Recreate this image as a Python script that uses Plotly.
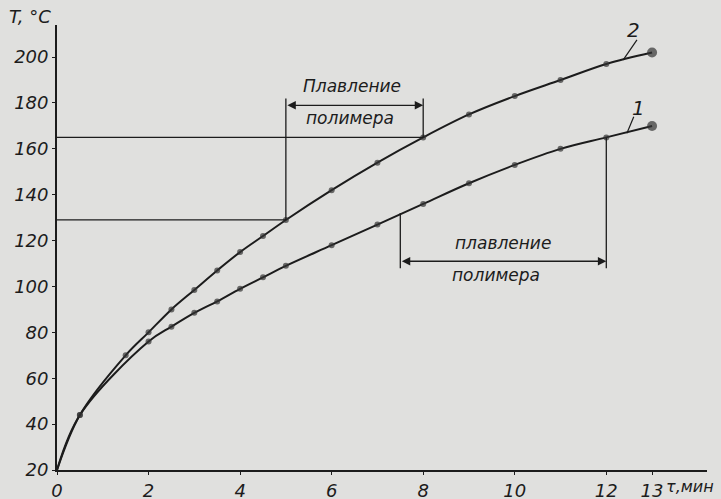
import plotly.graph_objects as go

# Curve 2
t2 = [0, 0.5, 1.5, 2, 2.5, 3, 3.5, 4, 4.5, 5, 6, 7, 8, 9, 10, 11, 12, 13]
T2 = [20, 44, 70, 80, 90, 98.5, 107, 115, 122, 129, 142, 154, 165, 175, 183, 190, 197, 202]
# Curve 1
t1 = [0, 0.5, 2, 2.5, 3, 3.5, 4, 4.5, 5, 6, 7, 8, 9, 10, 11, 12, 13]
T1 = [20, 44, 76, 82.5, 88.5, 93.5, 99, 104, 109, 118, 127, 136, 145, 153, 160, 165, 170]

# melting intervals
melt2_t = [5, 8]
melt2_T = [129, 165]
melt1_t = [7.5, 12]
melt1_T = [132, 165]
bracket2_T = 179
bracket1_T = 111

x_ticks = [0, 2, 4, 6, 8, 10, 12, 13]
y_ticks = [20, 40, 60, 80, 100, 120, 140, 160, 180, 200]

INK = "#1c1c1c"
BG = "#e0e0de"
FONT = dict(family="DejaVu Sans", size=17, color=INK, style="italic")
TICKFONT = dict(family="DejaVu Sans", size=18, color=INK, style="italic")

fig = go.Figure()

def msizes(n):
    s = [6] * n
    s[0] = 0
    s[-1] = 10
    return s

for t, T in ((t2, T2), (t1, T1)):
    fig.add_trace(go.Scatter(
        x=t, y=T, mode="lines+markers",
        line=dict(color=INK, width=2, shape="spline", smoothing=1.0),
        marker=dict(color="#333333", size=msizes(len(t)), line=dict(width=0)),
        hoverinfo="skip", showlegend=False, cliponaxis=False))

def seg(xs, ys, w=1.3):
    fig.add_trace(go.Scatter(x=xs, y=ys, mode="lines",
                             line=dict(color=INK, width=w),
                             hoverinfo="skip", showlegend=False))

# horizontal guides for curve 2
seg([0, melt2_t[0]], [melt2_T[0], melt2_T[0]])
seg([0, melt2_t[1]], [melt2_T[1], melt2_T[1]])
# upper bracket verticals
seg([melt2_t[0], melt2_t[0]], [melt2_T[0], bracket2_T + 3])
seg([melt2_t[1], melt2_t[1]], [melt2_T[1], bracket2_T + 3])
# lower bracket verticals
seg([melt1_t[0], melt1_t[0]], [melt1_T[0], bracket1_T - 3])
seg([melt1_t[1], melt1_t[1]], [melt1_T[1], bracket1_T - 3])

# curve label leaders
seg([12.37, 12.67], [198.8, 207.5], 1.2)
seg([12.45, 12.6], [166.8, 174], 1.2)

annotations = []
for (xa, xb, yy) in ((melt2_t[0], melt2_t[1], bracket2_T), (melt1_t[0], melt1_t[1], bracket1_T)):
    annotations.append(dict(x=xb, y=yy, ax=xa, ay=yy, xref="x", yref="y",
                            axref="x", ayref="y", text="", showarrow=True,
                            arrowhead=2, startarrowhead=2, arrowside="end+start",
                            arrowsize=1.3, arrowwidth=1.3, arrowcolor=INK))

annotations += [
    dict(x=6.45, y=187.5, text="Плавление", xref="x", yref="y", showarrow=False, font=FONT),
    dict(x=6.4, y=173.5, text="полимера", xref="x", yref="y", showarrow=False, font=FONT),
    dict(x=9.75, y=119, text="плавление", xref="x", yref="y", showarrow=False, font=FONT),
    dict(x=9.6, y=105, text="полимера", xref="x", yref="y", showarrow=False, font=FONT),
    dict(x=12.6, y=212, text="2", xref="x", yref="y", showarrow=False,
         font=dict(family="DejaVu Sans", size=20, color=INK, style="italic")),
    dict(x=12.7, y=178, text="1", xref="x", yref="y", showarrow=False,
         font=dict(family="DejaVu Sans", size=20, color=INK, style="italic")),
    dict(x=13.27, y=-0.012, text="τ,мин", xref="x", yref="paper", showarrow=False,
         font=dict(family="DejaVu Sans", size=16, color=INK, style="italic"),
         yanchor="top", xanchor="left"),
    dict(x=-0.042, y=0.99, text="T, °C", xref="paper", yref="paper", showarrow=False,
         font=TICKFONT, yanchor="bottom", xanchor="center"),
]

fig.update_layout(
    width=721, height=499, autosize=False,
    margin=dict(l=57, r=14, t=25, b=29, autoexpand=False),
    paper_bgcolor=BG, plot_bgcolor=BG,
    font=FONT,
    annotations=annotations,
    xaxis=dict(range=[0, 14.2], tickvals=x_ticks, ticktext=[str(v) for v in x_ticks],
               showgrid=False, zeroline=False, showline=True, linecolor=INK, linewidth=1.8,
               ticks="outside", ticklen=3, tickwidth=1.3, tickcolor=INK,
               tickfont=TICKFONT, fixedrange=True, automargin=False),
    yaxis=dict(range=[20, 214], tickvals=y_ticks, ticktext=[str(v) for v in y_ticks],
               showgrid=False, zeroline=False, showline=True, linecolor=INK, linewidth=1.8,
               ticks="outside", ticklen=3, tickwidth=1.3, tickcolor=INK,
               tickfont=TICKFONT, fixedrange=True, automargin=False),
)

fig.write_html(
    "out.html",
    config={"displayModeBar": False},
    post_script="document.body.style.margin='0';document.body.style.overflow='hidden';"
                "document.body.style.background='#e0e0de';",
)
